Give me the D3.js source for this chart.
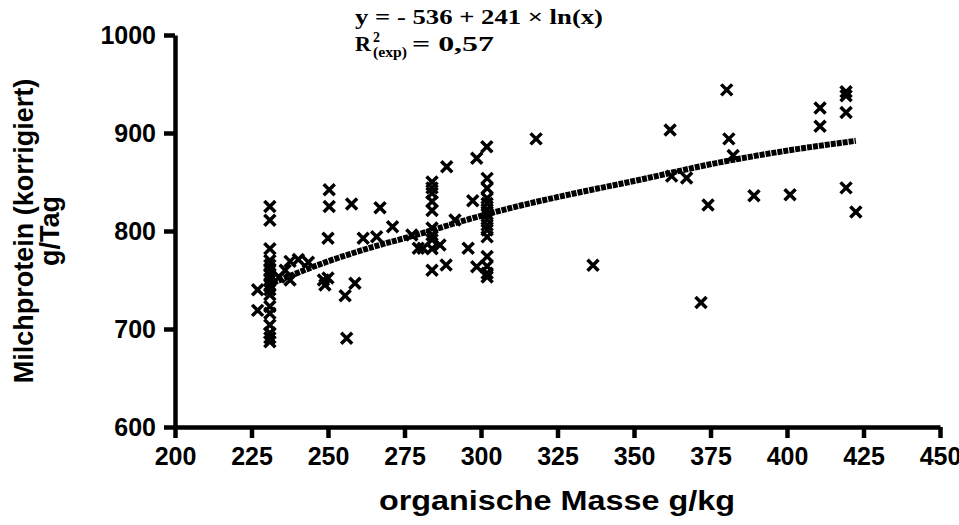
<!doctype html>
<html>
<head>
<meta charset="utf-8">
<title>Milchprotein</title>
<script src="https://cdn.jsdelivr.net/npm/d3@7"></script>
<style>
  html, body { margin: 0; padding: 0; background: #fff; }
  svg { display: block; }
  .axis text { font-family: "Liberation Sans", Arial, sans-serif; font-weight: bold; font-size: 25px; fill: #000; }
  .title { font-family: "Liberation Sans", Arial, sans-serif; font-weight: bold; font-size: 27px; }
  .eq { font-family: "Liberation Serif", "Times New Roman", serif; font-weight: bold; font-size: 22px; }
</style>
</head>
<body>
<svg width="959" height="525"></svg>
<script>
// organische Masse (g/kg) und Milchprotein (g/Tag)
var xVals = [
  227, 227,
  231, 231, 231, 231, 231, 231, 231, 231, 231, 231, 231, 231, 231, 231, 231, 231, 231,
  234, 236, 237.6, 237.6, 240.3, 243.6, 248.5, 249, 250, 250, 250.4, 250.4,
  255.6, 256.1, 257.7, 258.8, 261.5, 265.9, 267, 271.1, 277.4, 279.5, 281.1,
  284, 284, 284, 284, 284, 284, 284, 284, 284, 284,
  286.6, 288.6, 288.8, 291.5, 295.8, 297.3, 298.6, 301.9, 298.6,
  302, 302, 302, 302, 302, 302, 302, 302, 302, 302, 302, 302, 302, 302,
  318, 336.6, 361.8, 362.3, 367.2, 371.9, 374.2, 380.3, 381, 382.4, 389.2, 401,
  410.8, 410.8, 419.3, 419.3, 419.3, 419.3, 422.5
];
var yVals = [
  740, 719,
  825, 811, 782, 770, 765, 760, 755, 750, 745, 740, 735, 723, 716, 704, 696, 691, 687,
  753, 760, 769, 750, 771, 768, 750, 745, 752, 792.5, 842, 825,
  734, 690.5, 827.6, 746.6, 792.5, 794.2, 823.8, 804.4, 795.9, 782.3, 782.3,
  850, 844, 838.5, 830, 821, 803, 796, 791, 782, 760,
  785.7, 765.3, 865.6, 811.2, 782.3, 830.9, 874.2, 886, 763.6,
  853.7, 843.6, 833.4, 828, 822, 817, 812, 806, 801, 794, 774, 764, 757, 753,
  894, 765, 903, 856, 854, 727, 826.5, 944, 894, 877, 836, 837,
  925.5, 907, 942, 938, 921, 844, 819.4
];

// Trendlinie
var trendX = [232, 250, 265, 280, 296, 313, 330, 350, 378, 400, 422.5];
var trendY = [747, 769, 784, 797, 812, 826, 838, 851, 870, 882, 892];

var xTicks = [200, 225, 250, 275, 300, 325, 350, 375, 400, 425, 450];
var yTicks = [600, 700, 800, 900, 1000];

var svg = d3.select('svg');

var xScale = d3.scaleLinear().domain([200, 450]).range([175, 940]);
var yScale = d3.scaleLinear().domain([600, 1000]).range([427, 35]);

// trend line (thick, dotted texture)
var line = d3.line()
  .x(function(d) { return xScale(d[0]); })
  .y(function(d) { return yScale(d[1]); })
  .curve(d3.curveMonotoneX);

svg.append('path')
  .datum(d3.zip(trendX, trendY))
  .attr('d', line)
  .attr('fill', 'none')
  .attr('stroke', '#000')
  .attr('stroke-width', 6)
  .attr('stroke-dasharray', '5,1');

// X markers
var s = 5.5;
svg.append('g').selectAll('path')
  .data(d3.zip(xVals, yVals))
  .enter().append('path')
  .attr('transform', function(d) { return 'translate(' + xScale(d[0]) + ',' + yScale(d[1]) + ')'; })
  .attr('d', 'M' + (-s) + ',' + (-s) + 'L' + s + ',' + s + 'M' + (-s) + ',' + s + 'L' + s + ',' + (-s))
  .attr('stroke', '#000')
  .attr('stroke-width', 3.5)
  .attr('fill', 'none');

// axes
var xAxis = d3.axisBottom(xScale).tickValues(xTicks).tickFormat(d3.format('d'))
  .tickSizeInner(11).tickSizeOuter(0).tickPadding(9);
var yAxis = d3.axisLeft(yScale).tickValues(yTicks).tickFormat(d3.format('d'))
  .tickSizeInner(11).tickSizeOuter(0).tickPadding(8);

svg.append('g').attr('class', 'axis')
  .attr('transform', 'translate(0,' + yScale(600) + ')')
  .call(xAxis);
svg.append('g').attr('class', 'axis')
  .attr('transform', 'translate(' + xScale(200) + ',0)')
  .call(yAxis);
svg.selectAll('.axis path, .axis line').attr('stroke', '#000').attr('stroke-width', 4.5);

// axis titles
svg.append('text').attr('class', 'title')
  .attr('x', 557).attr('y', 510)
  .attr('text-anchor', 'middle')
  .attr('textLength', 356).attr('lengthAdjust', 'spacingAndGlyphs')
  .text('organische Masse g/kg');

var yt = svg.append('text').attr('class', 'title')
  .attr('transform', 'translate(33,231) rotate(-90)')
  .attr('text-anchor', 'middle');
yt.append('tspan').attr('x', 0).attr('y', 0).text('Milchprotein (korrigiert)');
yt.append('tspan').attr('x', 0).attr('y', 26).text('g/Tag');

// equation
svg.append('text').attr('class', 'eq')
  .attr('x', 355).attr('y', 24)
  .attr('textLength', 248).attr('lengthAdjust', 'spacingAndGlyphs')
  .text('y = - 536 + 241 \u00d7 ln(x)');
var eq2 = svg.append('g').attr('class', 'eq');
eq2.append('text').attr('x', 355).attr('y', 51).text('R');
eq2.append('text').attr('x', 373).attr('y', 42).attr('font-size', 14).text('2');
eq2.append('text').attr('x', 373).attr('y', 57).attr('font-size', 14)
  .attr('textLength', 34).attr('lengthAdjust', 'spacingAndGlyphs').text('(exp)');
eq2.append('text').attr('x', 412).attr('y', 51)
  .attr('textLength', 82).attr('lengthAdjust', 'spacingAndGlyphs').text('= 0,57');
</script>
</body>
</html>
